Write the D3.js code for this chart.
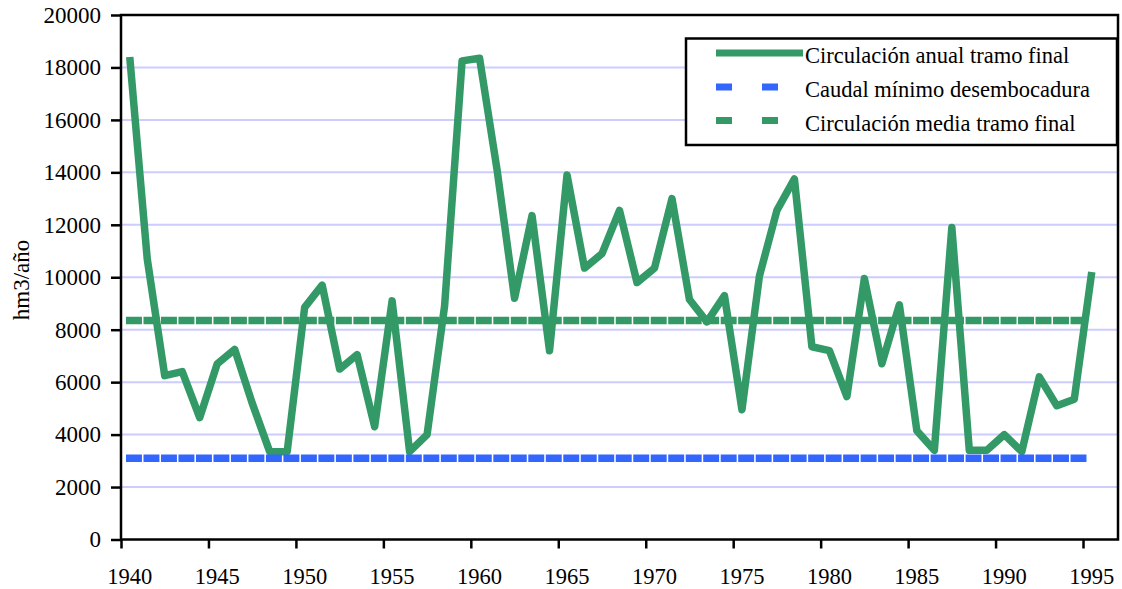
<!DOCTYPE html>
<html>
<head>
<meta charset="utf-8">
<script src="https://cdn.jsdelivr.net/npm/d3@7"></script>
<style>
  body { margin: 0; background: #fff; }
  svg { display: block; }
  text { font-family: "Liberation Serif", "Times New Roman", serif; fill: #000; }
</style>
</head>
<body>
<svg id="chart" width="1122" height="589"></svg>
<script>
// annual flow, lower reach (hm3/year)
const years = d3.range(1940, 1996);
const circulacionAnual = [
  18400, 10700, 6250, 6400, 4650, 6700, 7250, 5200, 3350, 3350,
  8850, 9700, 6500, 7050, 4300, 9100, 3350, 4000, 8900, 18250,
  18350, 14100, 9200, 12350, 7200, 13900, 10350, 10900, 12550, 9800,
  10350, 13000, 9150, 8300, 9300, 4950, 10050, 12550, 13750, 7350,
  7200, 5450, 9950, 6700, 8950, 4150, 3400, 11900, 3400, 3400,
  4000, 3350, 6200, 5100, 5350, 10200
];
const caudalMinimo = years.map(() => 3100);
const circulacionMedia = years.map(() => 8350);

const yTicks = d3.range(0, 20001, 2000);
const xTickYears = d3.range(1940, 1996, 5);
const legendLabels = [
  "Circulación anual tramo final",
  "Caudal mínimo desembocadura",
  "Circulación media tramo final"
];
const green = "#339966", blue = "#3366ff";

const svg = d3.select("#chart");
const layout = { left: 121, right: 1118, top: 15, bottom: 539.5 };

// category axis: one slot per year, points at slot centres
let x = d3.scaleLinear().domain([1940, 1997]).range([layout.left, layout.right]);
let y = d3.scaleLinear().domain([0, 20000]).range([layout.bottom, layout.top]);
let step = x(1941) - x(1940);

// gridlines
svg.append("g").selectAll("line").data(yTicks.filter(d => d > 0 && d < 20000)).enter()
    .append("line")
    .attr("x1", layout.left).attr("x2", layout.right)
    .attr("y1", d => y(d)).attr("y2", d => y(d))
    .attr("stroke", "#ccccff").attr("stroke-width", 2);

let line = d3.line().x((d, i) => x(years[i] + 0.5)).y(d => y(d));

svg.append("path").datum(circulacionAnual)
    .attr("d", line)
    .attr("fill", "none").attr("stroke", green).attr("stroke-width", 7.5)
    .attr("stroke-linejoin", "round");

function dashed(values, color) {
    svg.append("path").datum(values)
        .attr("d", line)
        .attr("fill", "none").attr("stroke", color).attr("stroke-width", 7.5)
        .attr("stroke-linecap", "square")
        .attr("stroke-dasharray", (step / 2 - 0.3) + " " + (step / 2 + 0.3));
}
dashed(caudalMinimo, blue);
dashed(circulacionMedia, green);

// frame
svg.append("rect")
    .attr("x", layout.left).attr("y", layout.top)
    .attr("width", layout.right - layout.left).attr("height", layout.bottom - layout.top)
    .attr("fill", "none").attr("stroke", "#000").attr("stroke-width", 2.5);

// y axis
let leftAxis = svg.append("g")
    .attr("transform", "translate(" + layout.left + ",0)")
    .call(d3.axisLeft(y).tickValues(yTicks).tickSize(9).tickPadding(11).tickFormat(d3.format("d")));
leftAxis.select(".domain").remove();
leftAxis.selectAll(".tick line").attr("x2", -10).attr("x1", 1).attr("stroke-width", 2.5);
leftAxis.selectAll("text").style("font-size", "23px");

// x axis ticks between categories, labels on category centres
let bottomAxis = svg.append("g")
    .attr("transform", "translate(0," + layout.bottom + ")")
    .call(d3.axisBottom(x).tickValues(xTickYears).tickSize(9).tickFormat(""));
bottomAxis.select(".domain").remove();
bottomAxis.selectAll(".tick line").attr("stroke-width", 2.5);

svg.append("g").selectAll("text").data(xTickYears).enter()
    .append("text")
    .attr("x", d => x(d + 0.5))
    .attr("y", 584)
    .attr("text-anchor", "middle")
    .style("font-size", "22.5px")
    .text(d => d);

svg.append("text")
    .attr("transform", "translate(29,280) rotate(-90)")
    .attr("text-anchor", "middle")
    .style("font-size", "23px")
    .text("hm3/año");

// legend
let legend = svg.append("g");
legend.append("rect")
    .attr("x", 686).attr("y", 38.5).attr("width", 431).attr("height", 106.5)
    .attr("fill", "#fff").attr("stroke", "#000").attr("stroke-width", 2.5);
let rowY = [53, 87, 120.5];
let rows = legend.selectAll(".legendRow").data(legendLabels).enter()
    .append("g").attr("class", "legendRow")
    .attr("transform", (d, i) => "translate(0," + rowY[i] + ")");
rows.append("line")
    .attr("x1", (d, i) => i == 0 ? 716 : 719.5)
    .attr("x2", (d, i) => i == 0 ? 803 : 799.5)
    .attr("stroke", (d, i) => i == 1 ? blue : green)
    .attr("stroke-width", 7)
    .attr("stroke-linecap", (d, i) => i == 0 ? "butt" : "square")
    .attr("stroke-dasharray", (d, i) => i == 0 ? null : "9 37");
rows.append("text")
    .attr("x", 805).attr("y", 10)
    .style("font-size", "22.5px")
    .text(d => d);
</script>
</body>
</html>
